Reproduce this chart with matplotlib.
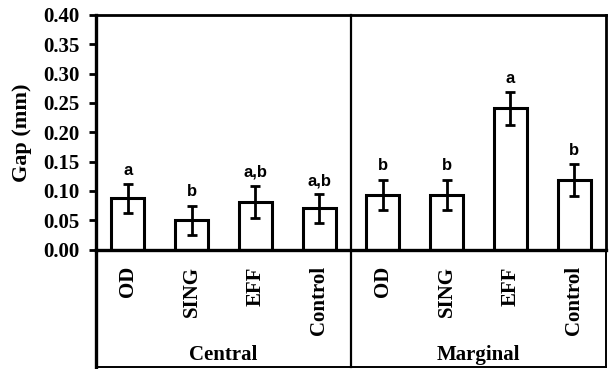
import matplotlib
matplotlib.use('Agg')
import matplotlib.pyplot as plt
import matplotlib.transforms as mtransforms

# data
groups = ["Central", "Marginal"]
treatments = ["OD", "SING", "EFF", "Control"]
central_means = [0.087, 0.050, 0.081, 0.070]
central_err = [0.025, 0.025, 0.027, 0.024]
marginal_means = [0.093, 0.093, 0.241, 0.119]
marginal_err = [0.026, 0.026, 0.028, 0.027]
central_letters = ["a", "b", "a,b", "a,b"]
marginal_letters = ["b", "b", "a", "b"]
yticks = [0.00, 0.05, 0.10, 0.15, 0.20, 0.25, 0.30, 0.35, 0.40]

means = central_means + marginal_means
errs = central_err + marginal_err
letters = central_letters + marginal_letters
labels = treatments + treatments
x = list(range(len(means)))

serif = 'Liberation Serif'
sans = 'Liberation Sans'
lw = 2.0

fig = plt.figure(figsize=(6.09, 3.69), dpi=100)
ax = fig.add_axes([96 / 609, 119.5 / 369, 510 / 609, 234.5 / 369])

ax.bar(x, means, width=0.52, color='white', edgecolor='black', linewidth=2.2, zorder=2)
ax.errorbar(x, means, yerr=errs, fmt='none', ecolor='black', elinewidth=2.0,
            capsize=3.5, capthick=2.0, zorder=3)

for xi, m, e, lab in zip(x, means, errs, letters):
    ax.annotate(lab, (xi, m + e), xytext=(0, 4.5), textcoords='offset points',
                ha='center', va='bottom', fontsize=12, fontweight='bold', family=sans)

ax.set_xlim(-0.5, 7.5)
ax.set_ylim(0, 0.40)
ax.set_yticks(yticks)
ax.set_yticklabels([f"{t:.2f}" for t in yticks], fontsize=15, fontweight='bold', family=serif)
ax.set_xticks(x)
ax.set_xticklabels(labels, rotation=90, fontsize=15, fontweight='bold', family=serif, va='top')
ax.tick_params(axis='x', length=0, pad=12)
ax.tick_params(axis='y', length=5, width=2.0, direction='out', pad=7)
ax.set_ylabel("Gap (mm)", fontsize=16, fontweight='bold', family=serif, labelpad=8)

for s in ax.spines.values():
    s.set_linewidth(lw)
ax.spines['left'].set_linewidth(2.4)
ax.spines['bottom'].set_linewidth(2.4)

# separator between the groups and the box round the lower labels
trans = mtransforms.blended_transform_factory(ax.transData, ax.transAxes)
sep = 3.5
yb = -0.502
ax.plot([sep, sep], [yb, 1.0], color='black', lw=1.6, transform=trans, clip_on=False, zorder=4)
ax.plot([-0.5, -0.5], [yb, 0], color='black', lw=2.4, transform=trans, clip_on=False)
ax.plot([7.5, 7.5], [yb, 0], color='black', lw=1.4, transform=trans, clip_on=False)
ax.plot([-0.5, 7.5], [yb, yb], color='black', lw=1.4, transform=trans, clip_on=False)

ax.text(1.5, -0.472, groups[0], transform=trans, ha='center', va='baseline',
        fontsize=15, fontweight='bold', family=serif)
ax.text(5.5, -0.472, groups[1], transform=trans, ha='center', va='baseline',
        fontsize=15, fontweight='bold', family=serif)

fig.savefig('out.png', dpi=100)
